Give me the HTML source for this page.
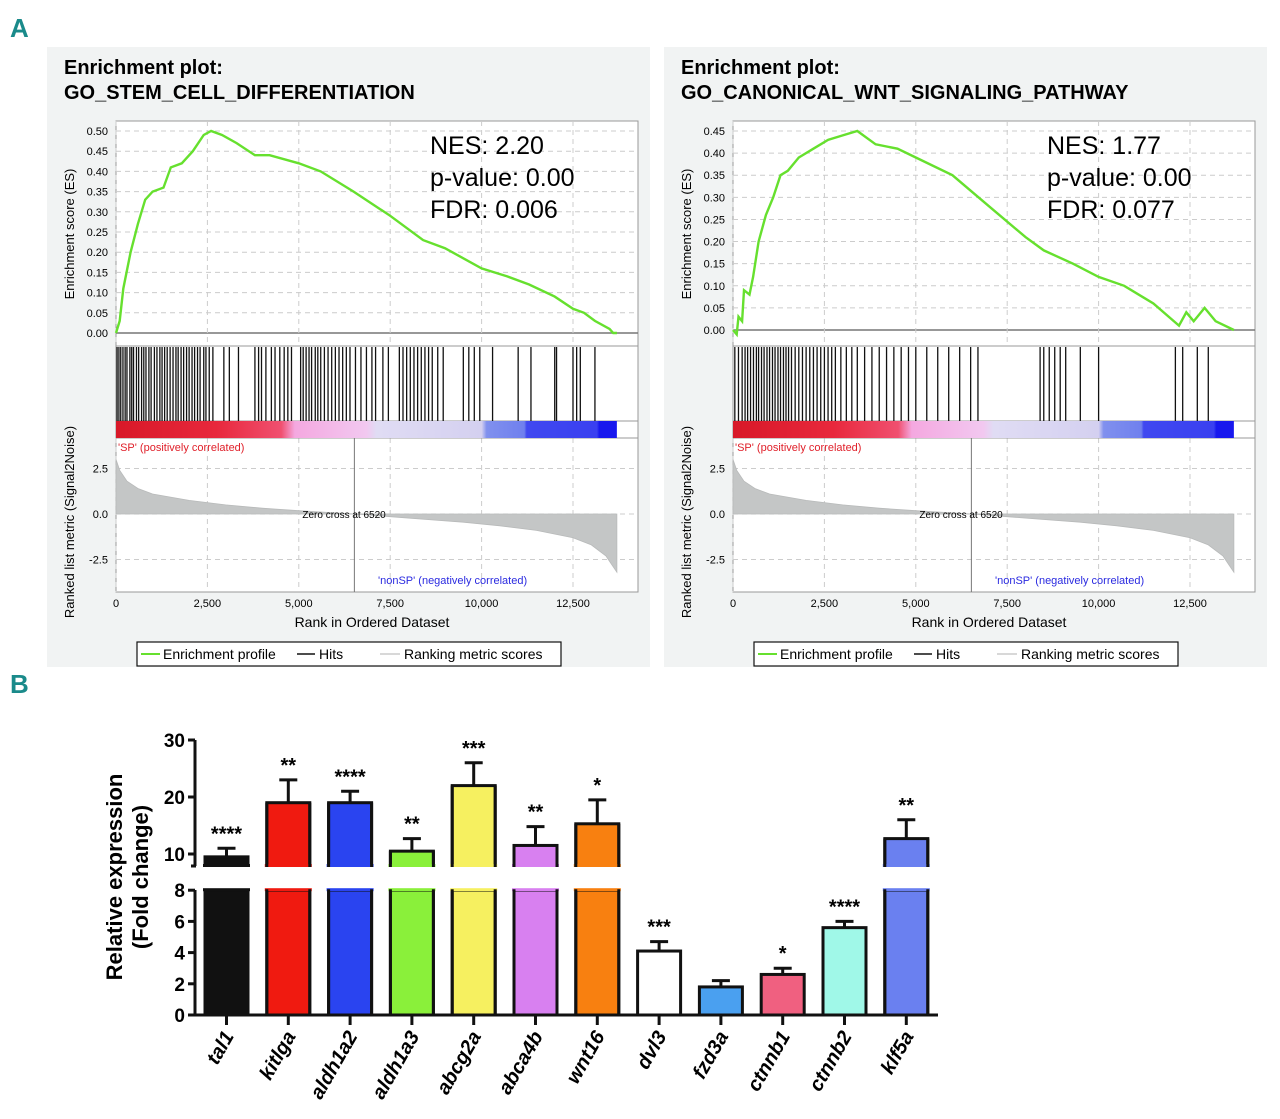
<!DOCTYPE html>
<html><head><meta charset="utf-8"><style>
html,body{margin:0;padding:0;background:#fff;}
svg{display:block;font-family:"Liberation Sans",sans-serif;}
</style></head><body>
<svg id="fig" width="1280" height="1119" viewBox="0 0 1280 1119" xmlns="http://www.w3.org/2000/svg">
<text x="10" y="37" font-size="26" font-weight="bold" fill="#1a8a8a" font-family="Liberation Sans Narrow, Liberation Sans, sans-serif">A</text>
<text x="10" y="693" font-size="26" font-weight="bold" fill="#1a8a8a" font-family="Liberation Sans Narrow, Liberation Sans, sans-serif">B</text>
<g id="gsea"></g>
<g id="bars"></g>
</svg>
<script>
// ---- GSEA data ----
const esRanks1 = [0,100,200,400,600,800,1000,1300,1500,1800,2100,2400,2600,2900,3300,3800,4200,5000,5600,6500,7500,8400,9000,10000,10700,11300,12000,12500,12800,13100,13500,13600,13700];
const esVals1  = [0,0.03,0.11,0.20,0.27,0.33,0.35,0.36,0.41,0.42,0.45,0.49,0.50,0.49,0.47,0.44,0.44,0.42,0.40,0.35,0.29,0.23,0.21,0.16,0.14,0.12,0.09,0.06,0.05,0.03,0.01,0.00,0.00];
const hits1 = [30,80,130,190,250,300,380,430,480,560,620,700,760,820,900,960,1050,1120,1200,1260,1330,1400,1480,1560,1640,1700,1780,1850,1930,2000,2080,2150,2230,2300,2400,2460,2550,2650,2950,3100,3350,3800,3900,3980,4100,4250,4350,4480,4600,4700,4800,5050,5120,5200,5280,5350,5450,5520,5600,5700,5800,5900,6000,6100,6200,6300,6400,6550,6700,6850,7000,7100,7300,7450,7750,7850,7950,8050,8150,8250,8350,8450,8550,8650,8800,8950,9500,9650,9800,9950,10300,11000,11350,12000,12050,12500,12600,12700,13100];
const esRanks2 = [0,100,150,250,300,450,550,700,900,1100,1300,1500,1800,2200,2600,3000,3400,3900,4500,5000,6000,7000,8000,8500,9300,10000,10700,11500,12200,12400,12600,12900,13200,13700];
const esVals2  = [0,-0.01,0.03,0.02,0.09,0.08,0.12,0.20,0.26,0.30,0.35,0.36,0.39,0.41,0.43,0.44,0.45,0.42,0.41,0.39,0.35,0.28,0.21,0.18,0.15,0.12,0.10,0.06,0.01,0.04,0.02,0.05,0.02,0.00];
const hits2 = [50,150,250,330,400,480,560,640,700,780,850,930,1000,1080,1150,1230,1300,1380,1450,1520,1600,1700,1800,1900,2000,2100,2200,2300,2400,2500,2600,2700,2800,2950,3100,3250,3400,3600,3800,4000,4200,4400,4600,4800,5000,5300,5600,5900,6200,6500,6700,8400,8500,8650,8800,8950,9100,9500,10000,12100,12300,12700,13000];
const metricRanks = [0,100,300,600,1000,2000,3000,4000,5000,6000,6520,7500,8500,9500,10500,11500,12500,13000,13400,13600,13700];
const metricVals  = [3.0,2.4,1.8,1.4,1.1,0.75,0.5,0.32,0.18,0.06,0,-0.15,-0.3,-0.45,-0.65,-0.9,-1.3,-1.7,-2.3,-2.9,-3.2];
const rankTicks = [0,2500,5000,7500,10000,12500];
const rankTickLabels = ["0","2,500","5,000","7,500","10,000","12,500"];
const metricTicks = [2.5,0,-2.5];
const metricTickLabels = ["2.5","0.0","-2.5"];

const NS="http://www.w3.org/2000/svg";
function mk(parent,tag,attrs,text){const e=document.createElementNS(NS,tag);for(const k in attrs)e.setAttribute(k,attrs[k]);if(text!==undefined)e.textContent=text;parent.appendChild(e);return e;}

function drawPanel(ox, esMax, esZeroY, title2, stats, esR, esV, hits, idx){
  const g=mk(document.getElementById('gsea'),'g',{});
  
  
  const L=ox+116, R=ox+638, T=121;
  const bg=mk(g,'rect',{x:ox+47,y:47,width:603,height:620,fill:'#f1f3f3'});
  
  const t1=mk(g,'text',{x:ox+64,y:74,'font-size':20,'font-weight':'bold'},'Enrichment plot:');
  
  const t2=mk(g,'text',{x:ox+64,y:99,'font-size':20,'font-weight':'bold'},title2);
  
  mk(g,'rect',{x:L,y:T,width:R-L,height:471,fill:'#fff',stroke:'#999','stroke-width':1});
  const x=r=>L+r/12500*457;
  const yES=v=>esZeroY-(v/0.5)*(esZeroY-131)*(0.5/esMax);
  const yM=v=>514-v*18.2;
  for(let v=0;v<=esMax+1e-6;v+=0.05){
    const yy=yES(v);
    mk(g,'line',{x1:L,x2:R,y1:yy,y2:yy,stroke:v===0?'#777':'#ccc','stroke-dasharray':v===0?'':'5,4','stroke-width':v===0?1.5:1});
    const tl=mk(g,'text',{x:L-8,y:yy+4,'font-size':11,'text-anchor':'end'},v.toFixed(2));
    
  }
  rankTicks.forEach(r=>{
    mk(g,'line',{x1:x(r),x2:x(r),y1:T,y2:346,stroke:'#ccc','stroke-dasharray':'5,4'});
    mk(g,'line',{x1:x(r),x2:x(r),y1:438,y2:592,stroke:'#ccc','stroke-dasharray':'5,4'});
  });
  metricTicks.forEach((v,i)=>{
    mk(g,'line',{x1:L,x2:R,y1:yM(v),y2:yM(v),stroke:'#ccc','stroke-dasharray':'5,4'});
    const tl=mk(g,'text',{x:L-8,y:yM(v)+4,'font-size':11,'text-anchor':'end'},metricTickLabels[i]);
    
  });
  const pts=esR.map((r,i)=>x(r).toFixed(1)+','+yES(esV[i]).toFixed(1)).join(' ');
  const pl=mk(g,'polyline',{points:pts,fill:'none',stroke:'#66e02e','stroke-width':2.4});
  
  [346,421,438].forEach(yy=>mk(g,'line',{x1:L,x2:R,y1:yy,y2:yy,stroke:'#999'}));
  const hg=mk(g,'g',{});
  
  hits.forEach(h=>{
    const ln=mk(hg,'line',{x1:x(h),x2:x(h),y1:347,y2:421,stroke:'#111','stroke-width':1.3});
    
  });
  const gid='cb'+idx;
  const defs=mk(g,'defs',{});
  const lg=mk(defs,'linearGradient',{id:gid,x1:0,x2:1,y1:0,y2:0});
  [[0,'#d81828'],[0.2,'#e8283c'],[0.33,'#f05070'],[0.357,'#f4a8e0'],[0.5,'#f2c8f0'],[0.52,'#e0dcf4'],[0.73,'#d4d0f0'],[0.74,'#8090ee'],[0.815,'#7080ee'],[0.82,'#4048f0'],[0.96,'#3a40f0'],[0.965,'#1818ee'],[1,'#1818ee']].forEach(s=>mk(lg,'stop',{offset:s[0],'stop-color':s[1]}));
  const cb=mk(g,'rect',{x:L,y:421,width:x(13700)-L,height:17,fill:'url(#'+gid+')'});
  
  let mp='M'+x(0)+','+yM(0);
  metricRanks.forEach((r,i)=>mp+=' L'+x(r).toFixed(1)+','+yM(metricVals[i]).toFixed(1));
  mp+=' L'+x(13700)+','+yM(0)+' Z';
  const mf=mk(g,'path',{d:mp,fill:'#c4c6c6',stroke:'#b8baba','stroke-width':0.8});
  
  mk(g,'line',{x1:x(6520),x2:x(6520),y1:438,y2:592,stroke:'#777'});
  mk(g,'text',{x:L+2,y:451,'font-size':11,fill:'#e0202a'},"'SP' (positively correlated)");
  mk(g,'text',{x:x(6520)-52,y:518,'font-size':10},'Zero cross at 6520');
  mk(g,'text',{x:L+262,y:584,'font-size':11,fill:'#2a2ae0'},"'nonSP' (negatively correlated)");
  rankTicks.forEach((r,i)=>{
    const tl=mk(g,'text',{x:x(r),y:607,'font-size':11,'text-anchor':'middle'},rankTickLabels[i]);
    
  });
  mk(g,'text',{x:ox+372,y:627,'font-size':14,'text-anchor':'middle'},'Rank in Ordered Dataset');
  mk(g,'text',{x:0,y:0,'font-size':13,'text-anchor':'middle',transform:'translate('+(ox+74)+',234) rotate(-90)'},'Enrichment score (ES)');
  mk(g,'text',{x:0,y:0,'font-size':13,'text-anchor':'middle',transform:'translate('+(ox+74)+',522) rotate(-90)'},'Ranked list metric (Signal2Noise)');
  stats.forEach((s,i)=>mk(g,'text',{x:ox+430,y:154+i*32,'font-size':25},s));
  const lgd=mk(g,'g',{});
  
  mk(lgd,'rect',{x:ox+137,y:642,width:424,height:24,fill:'#fff',stroke:'#111','stroke-width':1.2});
  mk(lgd,'line',{x1:ox+141,x2:ox+160,y1:654,y2:654,stroke:'#66e02e','stroke-width':2});
  mk(lgd,'text',{x:ox+163,y:659,'font-size':14},'Enrichment profile');
  mk(lgd,'line',{x1:ox+297,x2:ox+315,y1:654,y2:654,stroke:'#111','stroke-width':1.5});
  mk(lgd,'text',{x:ox+319,y:659,'font-size':14},'Hits');
  mk(lgd,'line',{x1:ox+380,x2:ox+400,y1:654,y2:654,stroke:'#ccc','stroke-width':1.5});
  mk(lgd,'text',{x:ox+404,y:659,'font-size':14},'Ranking metric scores');
}
drawPanel(0,0.5,333,'GO_STEM_CELL_DIFFERENTIATION',['NES: 2.20','p-value: 0.00','FDR: 0.006'],esRanks1,esVals1,hits1,1);
drawPanel(617,0.45,330,'GO_CANONICAL_WNT_SIGNALING_PATHWAY',['NES: 1.77','p-value: 0.00','FDR: 0.077'],esRanks2,esVals2,hits2,2);

// ---- Bar chart data ----
const genes = ['tal1','kitlga','aldh1a2','aldh1a3','abcg2a','abca4b','wnt16','dvl3','fzd3a','ctnnb1','ctnnb2','klf5a'];
const means = [9.5,19,19,10.5,22,11.5,15.3,4.1,1.8,2.6,5.6,12.7];
const errs  = [1.5,4,2,2.2,4,3.3,4.2,0.6,0.4,0.4,0.4,3.3];
const stars = ['****','**','****','**','***','**','*','***','','*','****','**'];
const colors = ['#111111','#f01a10','#2a44f0','#8af03a','#f6f060','#d880f0','#f88010','#ffffff','#4aa0f0','#f06080','#a0f8e8','#6a80f0'];
const lowTicks=[0,2,4,6,8], highTicks=[10,20,30];

(function(){
  const g=document.getElementById('bars');
  const yLow=v=>1015-v*15.6;
  const yHigh=v=>854-(v-10)*5.7;
  const AX=195;
  const bx=i=>205+i*61.8;
  const BW=43;
  mk(g,'line',{x1:AX,x2:AX,y1:740,y2:866,stroke:'#111','stroke-width':3});
  mk(g,'line',{x1:AX,x2:AX,y1:890,y2:1015,stroke:'#111','stroke-width':3});
  mk(g,'line',{x1:AX-4,x2:AX+1,y1:866,y2:866,stroke:'#111','stroke-width':3});
  mk(g,'line',{x1:AX,x2:938,y1:1015,y2:1015,stroke:'#111','stroke-width':3});
  lowTicks.forEach(v=>{mk(g,'line',{x1:AX-7,x2:AX,y1:yLow(v),y2:yLow(v),stroke:'#111','stroke-width':3});
    const t=mk(g,'text',{x:AX-10,y:yLow(v)+7,'font-size':19,'font-weight':'bold','text-anchor':'end'},String(v));
    });
  highTicks.forEach(v=>{mk(g,'line',{x1:AX-7,x2:AX,y1:yHigh(v),y2:yHigh(v),stroke:'#111','stroke-width':3});
    const t=mk(g,'text',{x:AX-10,y:yHigh(v)+7,'font-size':19,'font-weight':'bold','text-anchor':'end'},String(v));
    });
  const yt=mk(g,'text',{x:0,y:0,'font-size':22,'font-weight':'bold','text-anchor':'middle',transform:'translate(122,877) rotate(-90)'});
  
  mk(yt,'tspan',{x:0,dy:0},'Relative expression');
  mk(yt,'tspan',{x:0,dy:26},'(Fold change)');
  genes.forEach((gn,i)=>{
    const v=means[i], e=errs[i], x0=bx(i), cx=x0+BW/2;
    const bar=mk(g,'g',{});
    
    
    const topY = v>8 ? yHigh(v) : yLow(v);
    const errY = (v+e)>8 ? yHigh(v+e) : yLow(v+e);
    mk(bar,'line',{x1:cx,x2:cx,y1:errY,y2:topY,stroke:'#111','stroke-width':3});
    mk(bar,'line',{x1:cx-9,x2:cx+9,y1:errY,y2:errY,stroke:'#111','stroke-width':3});
    if(v>8){
      mk(bar,'rect',{x:x0,y:yLow(8),width:BW,height:yLow(0)-yLow(8),fill:colors[i],stroke:'#111','stroke-width':3});
      mk(bar,'rect',{x:x0,y:topY,width:BW,height:866-topY,fill:colors[i],stroke:'#111','stroke-width':3});
      mk(bar,'rect',{x:x0-2,y:867,width:BW+4,height:22,fill:'#fff'});
      mk(bar,'rect',{x:x0-2,y:yLow(8)-2,width:BW+4,height:3,fill:colors[i]});
      mk(bar,'rect',{x:x0-2,y:864,width:BW+4,height:3,fill:colors[i]});
      mk(bar,'line',{x1:x0,x2:x0,y1:yLow(8)-1,y2:1015,stroke:'#111','stroke-width':3});
      mk(bar,'line',{x1:x0+BW,x2:x0+BW,y1:yLow(8)-1,y2:1015,stroke:'#111','stroke-width':3});
      mk(bar,'line',{x1:x0,x2:x0,y1:topY,y2:867,stroke:'#111','stroke-width':3});
      mk(bar,'line',{x1:x0+BW,x2:x0+BW,y1:topY,y2:867,stroke:'#111','stroke-width':3});
    } else {
      mk(bar,'rect',{x:x0,y:topY,width:BW,height:1015-topY,fill:colors[i],stroke:'#111','stroke-width':3});
    }
    mk(bar,'line',{x1:cx,x2:cx,y1:1015,y2:1025,stroke:'#111','stroke-width':3});
    if(stars[i]){
      const s=mk(g,'text',{x:cx,y:errY-8,'font-size':20,'font-weight':'bold','text-anchor':'middle'},stars[i]);
      
    }
    const lb=mk(g,'text',{x:0,y:0,'font-size':20,'font-weight':'bold','font-style':'italic','text-anchor':'end',transform:'translate('+(cx+8)+',1036) rotate(-60)'},gn);
    
  });
})();
</script>
</body></html>
